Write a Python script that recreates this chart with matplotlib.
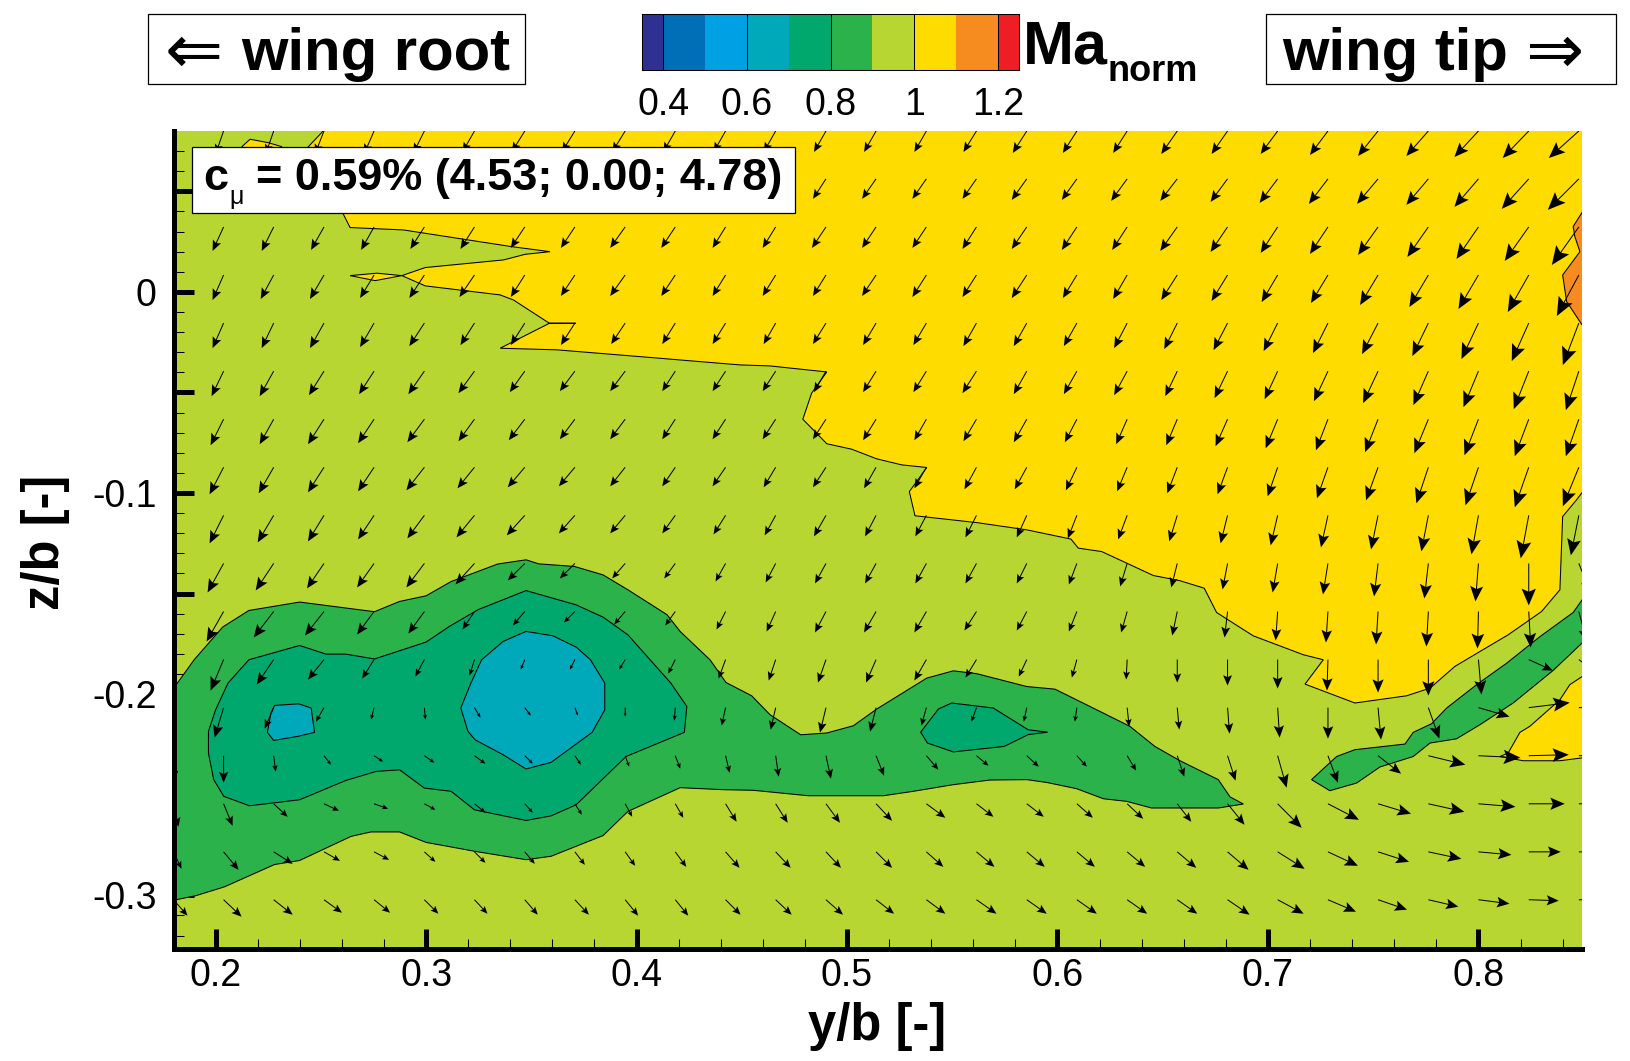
import numpy as np
import matplotlib
matplotlib.use("Agg")
import matplotlib.pyplot as plt
from matplotlib.colors import ListedColormap, BoundaryNorm
from matplotlib.patches import Rectangle

FW, FH = 1630, 1061
plt.rcParams['font.family'] = ['Liberation Sans', 'DejaVu Sans']

# ---- colour scale ----
cbar_levels = [0.35, 0.4, 0.5, 0.6, 0.7, 0.8, 0.9, 1.0, 1.1, 1.2, 1.25]
cbar_colors = ['#2e3192', '#006fb8', '#00a1e4', '#00a9ba', '#00a86e',
               '#2bb24b', '#b8d632', '#ffdc00', '#f68b20', '#ed1f24']
cbar_ticks = [0.4, 0.6, 0.8, 1.0, 1.2]
cbar_ticklabels = ['0.4', '0.6', '0.8', '1', '1.2']

# ---- contour outlines (y/b, z/b) ----
ma100_main = [(.2600,.0900),(.2511,.0800),(.2440,.0721),(.2544,.0557),(.2606,.0388),(.2639,.0320),(.2893,.0308),
    (.3407,.0225),(.3589,.0200),(.3471,.0187),(.3368,.0159),(.2996,.0121),(.2885,.0081),(.2996,.0030),(.3352,-.0015),
    (.3415,-.0040),(.3586,-.0156),(.3711,-.0156),(.3586,-.0156),(.3352,-.0280),(.3621,-.0288),(.4112,-.0330),
    (.4294,-.0346),(.4492,-.0363),(.4634,-.0368),(.4904,-.0398),(.4832,-.0503),(.4790,-.0633),(.4904,-.0755),
    (.5022,-.0782),(.5141,-.0830),(.5260,-.0860),(.5379,-.0873),(.5296,-.0993),(.5323,-.1113),(.5616,-.1147),
    (.5854,-.1183),(.6064,-.1229),(.6099,-.1274),(.6210,-.1291),(.6336,-.1352),(.6455,-.1410),(.6582,-.1436),
    (.6697,-.1473),(.6756,-.1594),(.6930,-.1710),(.7168,-.1804),(.7263,-.1829),(.7176,-.1950),(.7413,-.2044),
    (.7659,-.2008),(.7770,-.1970),(.7888,-.1862),(.8007,-.1788),(.8141,-.1705),(.8300,-.1589),(.8387,-.1481),
    (.8400,-.1117),(.8466,-.1034),(.8600,-.0850),(.8600,.0900)]
ma100_top_patch = [(.2125,.0722),(.2164,.0759),(.2250,.0742),(.2315,.0722),(.2221,.0631)]
ma100_lens = [(.2639,.0081),(.2766,.0093),(.2885,.0081),(.2758,.0056)]
ma100_lower = [(.8600,-.1838),(.8434,-.1953),(.8387,-.2028),(.8244,-.2160),(.8197,-.2190),(.8141,-.2293),(.8102,-.2310),
    (.8213,-.2331),(.8387,-.2331),(.8491,-.2317),(.8600,-.2300)]
ma110_tip = [(.8600,.0600),(.8490,.0391),(.8450,.0325),(.8458,.0275),(.8482,.0200),(.8400,.0084),(.8419,-.0048),
    (.8489,-.0159),(.8600,-.0300)]
ma90_strip = [(.7207,-.2425),(.7326,-.2310),(.7413,-.2276),(.7651,-.2248),(.7690,-.2190),(.7777,-.2147),(.7849,-.2069),
    (.7991,-.1953),(.8134,-.1846),(.8292,-.1714),(.8450,-.1594),(.8492,-.1532),(.8600,-.1372),(.8600,-.1640),
    (.8491,-.1747),(.8355,-.1882),(.8165,-.2044),(.8007,-.2152),(.7896,-.2222),(.7770,-.2243),(.7690,-.2310),
    (.7532,-.2362),(.7421,-.2442),(.7294,-.2480)]
ma90_main = [(.1700,-.2118),(.1813,-.1953),(.1898,-.1829),(.2034,-.1666),(.2158,-.1584),(.2399,-.1542),(.2755,-.1590),
    (.2874,-.1539),(.3000,-.1511),(.3119,-.1440),(.3340,-.1353),(.3475,-.1332),(.3535,-.1352),(.3705,-.1365),
    (.3841,-.1407),(.3959,-.1481),(.4145,-.1605),(.4207,-.1688),(.4349,-.1829),(.4425,-.1942),(.4547,-.2008),
    (.4634,-.2102),(.4780,-.2202),(.4904,-.2193),(.5030,-.2157),(.5141,-.2074),(.5379,-.1920),(.5505,-.1884),
    (.5616,-.1898),(.5854,-.1962),(.5988,-.1975),(.6202,-.2086),(.6344,-.2160),(.6463,-.2260),(.6582,-.2331),
    (.6764,-.2425),(.6820,-.2511),(.6883,-.2546),(.6764,-.2566),(.6582,-.2566),(.6447,-.2566),(.6329,-.2533),
    (.6218,-.2520),(.6091,-.2470),(.5949,-.2439),(.5854,-.2425),(.5679,-.2427),(.5505,-.2450),(.5315,-.2483),
    (.5173,-.2505),(.4816,-.2505),(.4555,-.2478),(.4413,-.2475),(.4207,-.2465),(.3959,-.2583),(.3841,-.2703),
    (.3594,-.2806),(.3475,-.2823),(.3230,-.2781),(.3000,-.2737),(.2874,-.2685),(.2738,-.2685),(.2644,-.2707),
    (.2399,-.2827),(.2280,-.2847),(.2042,-.2958),(.1906,-.3002),(.1799,-.3025),(.1700,-.3050)]
ma80_main = [(.2158,-.1829),(.2399,-.1758),(.2525,-.1801),(.2619,-.1801),(.2755,-.1825),(.3000,-.1741),(.3111,-.1663),
    (.3247,-.1580),(.3475,-.1485),(.3713,-.1556),(.3841,-.1617),(.3959,-.1705),(.4163,-.1945),(.4239,-.2061),
    (.4227,-.2190),(.3950,-.2310),(.3713,-.2550),(.3594,-.2605),(.3475,-.2628),(.3230,-.2575),(.3119,-.2483),
    (.2992,-.2467),(.2874,-.2376),(.2763,-.2384),(.2619,-.2429),(.2399,-.2525),(.2161,-.2555),(.2039,-.2508),
    (.1991,-.2425),(.1966,-.2293),(.1966,-.2185),(.2000,-.2078),(.2059,-.1945)]
ma80_leaf = [(.5497,-.2044),(.5695,-.2069),(.5861,-.2177),(.5953,-.2189),(.5861,-.2201),(.5746,-.2260),(.5505,-.2287),
    (.5382,-.2243),(.5350,-.2189),(.5434,-.2074)]
ma70_big = [(.3475,-.1688),(.3603,-.1710),(.3713,-.1766),(.3781,-.1829),(.3849,-.1945),(.3849,-.2078),(.3789,-.2190),
    (.3594,-.2339),(.3475,-.2372),(.3366,-.2301),(.3233,-.2227),(.3199,-.2185),(.3165,-.2069),(.3213,-.1945),
    (.3264,-.1829),(.3366,-.1738)]
ma70_small = [(.2280,-.2056),(.2395,-.2048),(.2454,-.2069),(.2470,-.2190),(.2390,-.2210),(.2276,-.2230),(.2246,-.2190),
    (.2263,-.2094)]

# ---- vector field: positions and components (in-plane velocity, arbitrary units, w positive downward) ----
arrow_y = [.2038,.2276,.2515,.2753,.2992,.3230,.3469,.3707,.3946,.4184,.4423,.4661,.4900,.5138,
           .5377,.5615,.5854,.6092,.6331,.6569,.6808,.7046,.7285,.7523,.7762,.8000,.8239,.8477]
arrow_z = [.0800,.0562,.0323,.0084,-.0155,-.0394,-.0633,-.0872,-.1111,-.1350,-.1589,-.1828,-.2067,-.2306,-.2545,-.2784,-.3022]
arrow_u = [
 [-8,-8,-9,-10,-11,-12,-13,-13,-13,-12,-12,-12,-12,-12,-12,-13,-14,-14,-14,-16,-16,-17,-18,-20,-22,-24,-26,-30],
 [-11,-12,-12,-12,-13,-13,-13,-13,-13,-13,-13,-13,-13,-14,-14,-14,-15,-15,-16,-17,-17,-18,-19,-21,-22,-24,-27,-31],
 [-11,-12,-13,-13,-14,-14,-14,-14,-15,-14,-13,-13,-14,-14,-14,-14,-15,-15,-15,-17,-17,-17,-18,-20,-21,-22,-24,-27],
 [-11,-13,-14,-14,-15,-15,-14,-14,-15,-14,-13,-13,-13,-14,-14,-14,-15,-14,-14,-16,-16,-16,-17,-18,-19,-20,-21,-22],
 [-11,-12,-14,-14,-15,-14,-14,-14,-14,-13,-13,-12,-13,-13,-13,-13,-13,-13,-13,-13,-14,-14,-15,-16,-16,-17,-17,-16],
 [-12,-14,-15,-15,-16,-16,-15,-15,-15,-13,-13,-13,-12,-13,-13,-14,-13,-13,-13,-12,-13,-13,-14,-15,-15,-15,-15,-13],
 [-13,-14,-16,-16,-17,-16,-16,-15,-15,-13,-13,-13,-13,-13,-12,-13,-13,-12,-11,-11,-12,-12,-12,-13,-14,-14,-14,-13],
 [-14,-15,-16,-16,-18,-17,-17,-16,-15,-13,-13,-12,-13,-12,-12,-12,-12,-11,-10,-10,-10,-10,-11,-12,-12,-13,-14,-16],
 [-14,-16,-16,-16,-17,-18,-18,-16,-15,-13,-12,-11,-12,-11,-11,-11,-10,-9,-9,-8,-7,-7,-7,-7,-7,-7,-8,-8],
 [-16,-18,-17,-17,-18,-19,-17,-15,-13,-11,-10,-10,-11,-11,-11,-11,-10,-8,-7,-6,-5,-5,-5,-4,-4,-3,0,12],
 [-17,-20,-19,-17,-16,-12,-12,-11,-11,-10,-9,-9,-11,-12,-12,-12,-10,-8,-6,-5,-3,-2,-2,-2,-2,-1,2,8],
 [-13,-17,-16,-12,-9,-5,-4,-5,-6,-7,-7,-7,-8,-10,-12,-11,-8,-5,-1,0,0,0,-1,0,0,3,24,20],
 [-9,-9,-8,-3,1,6,6,3,0,-1,-4,-5,-6,-6,-5,-5,-3,-2,2,2,2,2,0,3,11,31,41,35],
 [0,2,7,9,10,11,8,6,4,5,4,3,5,8,12,12,12,10,9,7,8,9,10,23,37,42,40,35],
 [9,14,15,14,11,11,8,7,7,8,11,12,14,16,19,17,17,16,16,14,17,24,31,33,36,37,36,35],
 [15,19,16,15,11,11,10,10,10,11,14,15,15,16,17,18,18,18,18,19,21,27,30,31,33,33,32,30],
 [18,19,18,16,14,13,13,14,13,13,15,16,17,18,19,20,20,20,20,20,22,26,28,29,30,31,30,28],
]
arrow_w = [
 [23,23,23,23,22,21,21,21,21,21,21,21,21,21,21,21,22,22,22,23,23,23,24,25,25,26,27,27],
 [24,23,23,22,22,21,21,21,21,20,20,20,20,20,20,20,21,21,22,22,23,24,25,25,26,28,30,31],
 [24,24,23,23,22,22,21,21,21,21,21,21,21,21,21,22,22,23,23,24,25,26,27,28,30,32,34,38],
 [25,24,24,23,23,22,22,21,21,21,21,21,21,21,22,22,23,23,24,25,26,27,28,30,32,34,37,41],
 [25,25,25,24,23,22,22,22,21,21,21,21,21,22,22,23,23,23,25,26,27,28,30,31,33,36,38,42],
 [25,25,24,23,23,22,21,20,20,20,20,20,21,21,21,22,23,23,24,25,27,28,30,32,34,36,38,39],
 [26,25,25,24,23,22,21,20,20,20,20,20,20,21,21,22,23,23,25,26,27,29,31,33,34,36,37,37],
 [27,26,25,24,23,21,20,19,19,19,19,20,20,21,21,22,22,23,24,26,27,29,31,33,36,38,40,39],
 [28,27,26,24,23,22,20,18,18,18,19,20,21,21,21,22,22,23,24,26,28,30,32,34,36,39,43,40],
 [29,27,25,24,24,21,17,15,15,15,18,19,20,20,20,20,20,21,23,24,26,29,31,33,35,38,42,30],
 [30,26,24,23,22,18,14,11,13,14,18,20,21,21,21,19,19,20,21,24,26,29,31,33,35,37,36,30],
 [31,25,20,19,17,16,10,10,10,14,19,21,23,23,21,18,17,18,20,23,26,29,31,33,36,35,11,15],
 [30,21,14,12,12,10,8,8,9,13,18,22,25,24,18,14,14,14,19,22,26,30,31,32,31,9,-5,0],
 [27,16,9,6,7,8,8,9,11,13,17,21,23,20,14,10,11,11,15,21,25,32,27,18,9,2,-1,0],
 [22,13,7,5,6,9,9,11,13,14,18,19,19,17,14,13,13,14,15,18,21,24,16,10,8,3,0,0],
 [18,12,9,8,10,11,12,13,14,15,16,16,16,16,15,15,15,15,15,16,18,17,14,10,7,3,0,0],
 [17,15,13,13,14,14,15,15,16,16,15,15,15,14,14,14,14,14,14,14,15,14,12,10,7,4,1,0],
]
# column sitting on the left axis, only its lowest rows show
edge_y = [.1800, .1800, .1800, .1800]
edge_z = [-.2306, -.2545, -.2784, -.3022]
edge_u = [1, 5, 8, 14]
edge_w = [25, 23, 17, 16]

x_ticks = [.2, .3, .4, .5, .6, .7, .8]
x_labels = ['0.2', '0.3', '0.4', '0.5', '0.6', '0.7', '0.8']
y_ticks = [.05, 0, -.05, -.1, -.15, -.2, -.25, -.3]
y_labels = ['', '0', '', '-0.1', '', '-0.2', '', '-0.3']


def px(x, y):
    return x / FW, 1 - y / FH


fig = plt.figure(figsize=(FW / 100, FH / 100), dpi=100, facecolor='white')
L, R, T, B = 173.5, 1582, 131, 949
ax = fig.add_axes([L / FW, 1 - B / FH, (R - L) / FW, (B - T) / FH])
ax.set_facecolor(cbar_colors[6])

layers = [(ma100_main, 7), (ma100_top_patch, 7), (ma100_lens, 7), (ma100_lower, 7), (ma110_tip, 8),
          (ma90_main, 5), (ma90_strip, 5), (ma80_main, 4), (ma80_leaf, 4), (ma70_big, 3), (ma70_small, 3)]
for poly, ci in layers:
    xs, zs = zip(*poly)
    ax.fill(xs, zs, facecolor=cbar_colors[ci], edgecolor='black', lw=0.75, zorder=2)


def arrow(x, z, u, w):
    n = max(float(np.hypot(u, w)), 1.0)
    ax.quiver([x], [z], [u], [-w], angles='uv', scale_units='dots', scale=1, units='dots', width=1.0,
              pivot='tail', headwidth=0.34 * n, headlength=0.40 * n, headaxislength=0.33 * n,
              minlength=0, color='black', zorder=3, linewidth=0)


for j, zv in enumerate(arrow_z):
    for i, yv in enumerate(arrow_y):
        arrow(yv, zv, arrow_u[j][i], arrow_w[j][i])
for yv, zv, u, w in zip(edge_y, edge_z, edge_u, edge_w):
    arrow(yv, zv, u, w)

ax.set_xlim(0.18, 0.8492)
ax.set_ylim(-0.3267, 0.08)
for s in ('top', 'right'):
    ax.spines[s].set_visible(False)
for s in ('left', 'bottom'):
    ax.spines[s].set_linewidth(3.6)
    ax.spines[s].set_zorder(6)
ax.set_xticks(x_ticks, x_labels)
ax.set_yticks(y_ticks, y_labels)
ax.set_xticks(np.round(np.arange(0.18, 0.85, 0.02), 2), minor=True)
ax.set_yticks(np.round(np.arange(-0.32, 0.08, 0.01), 2), minor=True)
ax.tick_params(which='major', direction='in', length=14.4, width=3.6, labelsize=27, zorder=5)
ax.tick_params(which='minor', direction='in', length=7.5, width=0.75, zorder=5)
ax.tick_params(axis='x', which='major', pad=6.5)
ax.tick_params(axis='y', which='major', pad=12)

# axis titles
fig.text(*px(877, 1040), 'y/b [-]', fontsize=36.5, fontweight='bold', ha='center', va='baseline')
fig.text(*px(46, 542), 'z/b [-]', fontsize=36.5, fontweight='bold', ha='center', va='center', rotation=90)

# colour bar
cax = fig.add_axes([642.3 / FW, 1 - 70.3 / FH, (1018.7 - 642.3) / FW, 56 / FH])
cmap = ListedColormap(cbar_colors)
norm = BoundaryNorm(cbar_levels, cmap.N)
mids = [(a + b) / 2 for a, b in zip(cbar_levels[:-1], cbar_levels[1:])]
cax.pcolormesh(cbar_levels, [0, 1], [mids], cmap=cmap, norm=norm)
cax.vlines(cbar_ticks, 0, 1, color='black', lw=0.75)
cax.set_xlim(cbar_levels[0], cbar_levels[-1])
cax.set_yticks([])
cax.set_xticks(cbar_ticks, cbar_ticklabels)
cax.tick_params(axis='x', length=0, labelsize=27, pad=12)
for s in cax.spines.values():
    s.set_linewidth(0.75)

# legend-like labels, framed
for (x0, x1) in [(148, 525), (1266, 1615.7)]:
    fig.add_artist(Rectangle(px(x0, 84.3), (x1 - x0) / FW, 70 / FH, transform=fig.transFigure,
                             facecolor='white', edgecolor='black', lw=0.9))
fig.text(*px(240.7, 70), 'wing root', fontsize=43, fontweight='bold', va='baseline')
fig.text(*px(1282, 70), 'wing tip', fontsize=43, fontweight='bold', va='baseline')
fig.text(*px(193.5, 73), '\u21d0', fontsize=50, family='DejaVu Sans', ha='center', va='baseline')
fig.text(*px(1554, 73), '\u21d2', fontsize=50, family='DejaVu Sans', ha='center', va='baseline')

fig.text(*px(1022.5, 63.3), 'Ma', fontsize=44, fontweight='bold', va='baseline')
fig.text(*px(1107, 81), 'norm', fontsize=26, fontweight='bold', va='baseline')

fig.add_artist(Rectangle(px(192.3, 213.3), (795 - 192.3) / FW, 66 / FH, transform=fig.transFigure,
                         facecolor='white', edgecolor='black', lw=0.9, zorder=8))
fig.text(*px(203, 190), 'c', fontsize=32.4, fontweight='bold', va='baseline', zorder=9)
fig.text(*px(229.5, 204), '\u03bc', fontsize=18, va='baseline', zorder=9)
fig.text(*px(256.5, 190), '= 0.59% (4.53; 0.00; 4.78)', fontsize=32.4, fontweight='bold', va='baseline', zorder=9)

fig.savefig('out.png', dpi=100)
